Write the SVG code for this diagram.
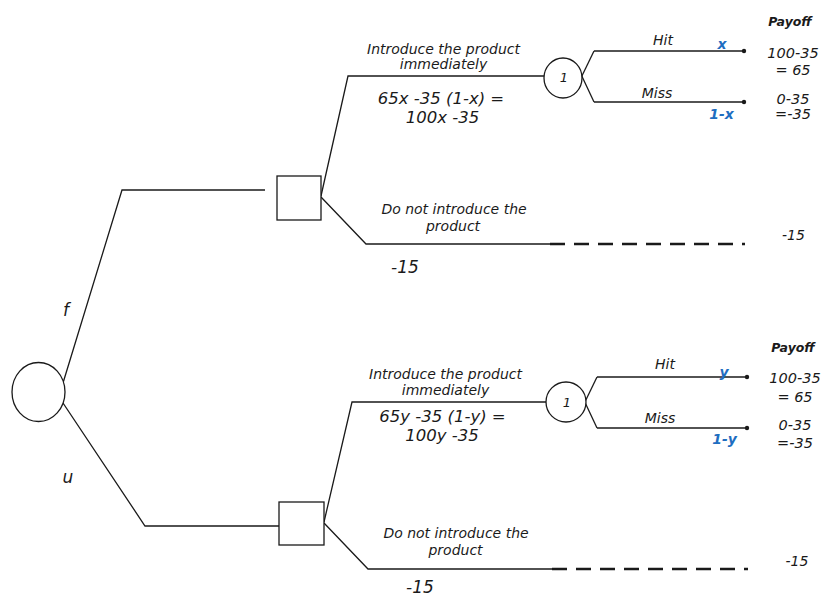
<svg xmlns="http://www.w3.org/2000/svg" width="821" height="596" viewBox="0 0 821 596">
<style>
  .ln{stroke:#1a1a1a;stroke-width:1.3;fill:none}
  .nd{stroke:#1a1a1a;stroke-width:1.3;fill:#fff}
  .dash{stroke:#1a1a1a;stroke-width:2.6;fill:none;stroke-dasharray:15 9}
  .dot{fill:#1a1a1a}
  text{font-family:"DejaVu Sans",Verdana,sans-serif;font-style:italic;fill:#1a1a1a;text-anchor:middle}
  .lbl{font-size:14px}
  .eq{font-size:16.5px}
  .pay{font-size:14.5px}
  .hd{font-size:12.5px;font-weight:bold}
  .pr{font-size:14px;font-weight:bold;fill:#1f6ec1}
  .br{font-size:17px}
  .sm{font-size:13px}
</style>
<g id="connectors">
  <polyline class="ln" points="63,383 122,190 265,190"/>
  <polyline class="ln" points="321,196 348,76 544,76"/>
  <line class="ln" x1="594" y1="51" x2="579" y2="82"/>
  <line class="ln" x1="594" y1="102" x2="579" y2="70"/>
  <line class="ln" x1="594" y1="51" x2="744" y2="51"/>
  <line class="ln" x1="594" y1="102" x2="744" y2="102"/>
  <polyline class="ln" points="321,197 366,244 550,244"/>
  <line class="dash" x1="550" y1="244" x2="745" y2="244"/>

  <polyline class="ln" points="63,403 145,526 279,526"/>
  <polyline class="ln" points="324,522 352,402 547,402"/>
  <line class="ln" x1="597" y1="377" x2="582" y2="408"/>
  <line class="ln" x1="597" y1="428" x2="582" y2="396"/>
  <line class="ln" x1="597" y1="377" x2="747" y2="377"/>
  <line class="ln" x1="597" y1="428" x2="747" y2="428"/>
  <polyline class="ln" points="324,523 368,569 552,569"/>
  <line class="dash" x1="552" y1="569" x2="748" y2="569"/>
</g>
<g id="root">
  <ellipse class="nd" cx="38.5" cy="392" rx="26.5" ry="29.5"/>
</g>
<g id="labels-root">
  <text class="br" x="66" y="316">f</text>
  <text class="br" x="68" y="483">u</text>
</g>
<g id="decision-top">
  <rect class="nd" x="277" y="176" width="44" height="44"/>
</g>
<g id="chance-top">
  <ellipse class="nd" cx="563" cy="78" rx="19" ry="20"/>
  <text class="sm" x="564" y="82">1</text>
</g>
<g id="end-top">
  <circle class="dot" cx="744" cy="51" r="2.2"/>
  <circle class="dot" cx="744" cy="102" r="2.2"/>
</g>
<g id="text-top">
  <text class="lbl" x="443.5" y="54">Introduce the product</text>
  <text class="lbl" x="443.5" y="69">immediately</text>
  <text class="eq" x="441" y="104">65x -35 (1-x) =</text>
  <text class="eq" x="442.5" y="123">100x -35</text>
  <text class="lbl" x="663" y="45">Hit</text>
  <text class="pr" x="722" y="49">x</text>
  <text class="lbl" x="657" y="98">Miss</text>
  <text class="pr" x="721.5" y="119">1-x</text>
  <text class="hd" x="790" y="26">Payoff</text>
  <text class="pay" x="793" y="58">100-35</text>
  <text class="pay" x="793" y="75">= 65</text>
  <text class="pay" x="793" y="104">0-35</text>
  <text class="pay" x="793" y="119">=-35</text>
  <text class="lbl" x="454" y="214">Do not introduce the</text>
  <text class="lbl" x="453" y="231">product</text>
  <text class="br" x="405" y="273">-15</text>
  <text class="lbl" x="793.5" y="240">-15</text>
</g>
<g id="decision-bottom">
  <rect class="nd" x="279" y="502" width="45" height="43"/>
</g>
<g id="chance-bottom">
  <circle class="nd" cx="566" cy="402" r="20"/>
  <text class="sm" x="567" y="407">1</text>
</g>
<g id="end-bottom">
  <circle class="dot" cx="747" cy="377" r="2.2"/>
  <circle class="dot" cx="747" cy="428" r="2.2"/>
</g>
<g id="text-bottom">
  <text class="lbl" x="445.5" y="379">Introduce the product</text>
  <text class="lbl" x="445.5" y="395">immediately</text>
  <text class="eq" x="442.5" y="422">65y -35 (1-y) =</text>
  <text class="eq" x="442" y="441">100y -35</text>
  <text class="lbl" x="665" y="369">Hit</text>
  <text class="pr" x="724" y="377">y</text>
  <text class="lbl" x="660" y="423">Miss</text>
  <text class="pr" x="724.5" y="444">1-y</text>
  <text class="hd" x="793" y="352">Payoff</text>
  <text class="pay" x="795" y="383">100-35</text>
  <text class="pay" x="795" y="402">= 65</text>
  <text class="pay" x="795" y="430">0-35</text>
  <text class="pay" x="795" y="448">=-35</text>
  <text class="lbl" x="456" y="538">Do not introduce the</text>
  <text class="lbl" x="455.5" y="555">product</text>
  <text class="br" x="420" y="593">-15</text>
  <text class="lbl" x="797" y="566">-15</text>
</g>
</svg>
